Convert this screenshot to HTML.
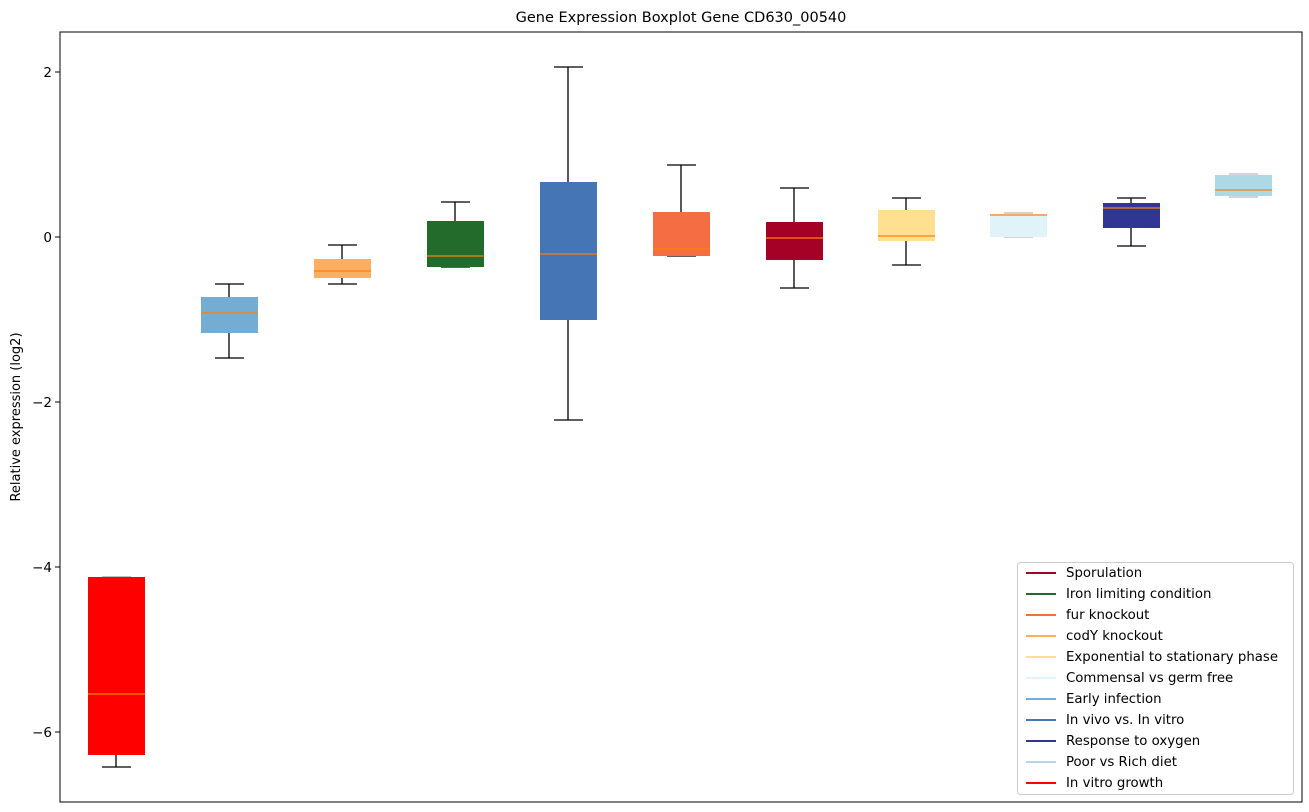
<!DOCTYPE html>
<html><head><meta charset="utf-8"><style>body{margin:0;background:#fff}svg{display:block;font-family:"DejaVu Sans","Liberation Sans",sans-serif}</style></head><body>
<svg width="1309" height="812" xmlns="http://www.w3.org/2000/svg">
<rect width="1309" height="812" fill="#fff"/>
<text x="681" y="22" font-size="14.5" text-anchor="middle">Gene Expression Boxplot Gene CD630_00540</text>
<text transform="translate(20,417) rotate(-90)" font-size="13" text-anchor="middle">Relative expression (log2)</text>
<g font-size="13.5" text-anchor="end">
<line x1="55" x2="60" y1="72" y2="72" stroke="#000"/><text x="52" y="77">2</text>
<line x1="55" x2="60" y1="237" y2="237" stroke="#000"/><text x="52" y="242">0</text>
<line x1="55" x2="60" y1="402" y2="402" stroke="#000"/><text x="52" y="407">−2</text>
<line x1="55" x2="60" y1="567" y2="567" stroke="#000"/><text x="52" y="572">−4</text>
<line x1="55" x2="60" y1="732" y2="732" stroke="#000"/><text x="52" y="737">−6</text>
</g>
<g stroke-width="1.3">
<g><line x1="116" x2="116" y1="755" y2="767" stroke="#000"/><line x1="102" x2="131" y1="767" y2="767" stroke="#000"/><line x1="102" x2="131" y1="577" y2="577" stroke="#999"/><rect x="88" y="577" width="57" height="178" fill="#ff0000"/><line x1="88" x2="145" y1="694" y2="694" stroke="#ff7f0e"/></g>
<g><line x1="229" x2="229" y1="284" y2="358" stroke="#000"/><line x1="215" x2="244" y1="284" y2="284" stroke="#000"/><line x1="215" x2="244" y1="358" y2="358" stroke="#000"/><rect x="201" y="297" width="57" height="36" fill="#74add1"/><line x1="201" x2="258" y1="313" y2="313" stroke="#ff7f0e"/></g>
<g><line x1="342" x2="342" y1="245" y2="284" stroke="#000"/><line x1="328" x2="357" y1="245" y2="245" stroke="#000"/><line x1="328" x2="357" y1="284" y2="284" stroke="#000"/><rect x="314" y="259" width="57" height="19" fill="#fdae61"/><line x1="314" x2="371" y1="271" y2="271" stroke="#ff7f0e"/></g>
<g><line x1="455" x2="455" y1="202" y2="267" stroke="#000"/><line x1="441" x2="470" y1="202" y2="202" stroke="#000"/><line x1="441" x2="470" y1="267" y2="267" stroke="#000"/><rect x="427" y="221" width="57" height="46" fill="#236b2b"/><line x1="427" x2="484" y1="256" y2="256" stroke="#ff7f0e"/></g>
<g><line x1="568" x2="568" y1="67" y2="420" stroke="#000"/><line x1="554" x2="583" y1="67" y2="67" stroke="#000"/><line x1="554" x2="583" y1="420" y2="420" stroke="#000"/><rect x="540" y="182" width="57" height="138" fill="#4575b4"/><line x1="540" x2="597" y1="254" y2="254" stroke="#ff7f0e"/></g>
<g><line x1="681" x2="681" y1="165" y2="256" stroke="#000"/><line x1="667" x2="696" y1="165" y2="165" stroke="#000"/><line x1="667" x2="696" y1="256" y2="256" stroke="#000"/><rect x="653" y="212" width="57" height="44" fill="#f46d43"/><line x1="653" x2="710" y1="249" y2="249" stroke="#ff7f0e"/></g>
<g><line x1="794" x2="794" y1="188" y2="288" stroke="#000"/><line x1="780" x2="809" y1="188" y2="188" stroke="#000"/><line x1="780" x2="809" y1="288" y2="288" stroke="#000"/><rect x="766" y="222" width="57" height="38" fill="#a50026"/><line x1="766" x2="823" y1="238" y2="238" stroke="#ff7f0e"/></g>
<g><line x1="906" x2="906" y1="198" y2="265" stroke="#000"/><line x1="892" x2="921" y1="198" y2="198" stroke="#000"/><line x1="892" x2="921" y1="265" y2="265" stroke="#000"/><rect x="878" y="210" width="57" height="31" fill="#fee090"/><line x1="878" x2="935" y1="236" y2="236" stroke="#ff7f0e"/></g>
<g><line x1="1004" x2="1033" y1="213" y2="213" stroke="#bbb"/><line x1="1004" x2="1033" y1="237" y2="237" stroke="#bbb"/><rect x="990" y="214" width="57" height="23" fill="#e0f3f8"/><line x1="990" x2="1047" y1="215" y2="215" stroke="#ff7f0e"/></g>
<g><line x1="1131" x2="1131" y1="198" y2="246" stroke="#000"/><line x1="1117" x2="1146" y1="198" y2="198" stroke="#000"/><line x1="1117" x2="1146" y1="246" y2="246" stroke="#000"/><rect x="1103" y="203" width="57" height="25" fill="#313695"/><line x1="1103" x2="1160" y1="208" y2="208" stroke="#ff7f0e"/></g>
<g><line x1="1229" x2="1258" y1="174" y2="174" stroke="#bbb"/><line x1="1229" x2="1258" y1="197" y2="197" stroke="#bbb"/><rect x="1215" y="175" width="57" height="21" fill="#add8e6"/><line x1="1215" x2="1272" y1="190" y2="190" stroke="#ff7f0e"/></g>
</g>
<rect x="60" y="32" width="1242" height="770" fill="none" stroke="#000" stroke-width="1"/>
<rect x="1017.5" y="562.5" width="276" height="232" rx="3" fill="#fff" fill-opacity="0.85" stroke="#ccc"/>
<g font-size="13.3" stroke-width="2">
<line x1="1026" x2="1056" y1="573" y2="573" stroke="#a50026"/><text x="1066" y="577">Sporulation</text>
<line x1="1026" x2="1056" y1="594" y2="594" stroke="#236b2b"/><text x="1066" y="598">Iron limiting condition</text>
<line x1="1026" x2="1056" y1="615" y2="615" stroke="#f46d43"/><text x="1066" y="619">fur knockout</text>
<line x1="1026" x2="1056" y1="636" y2="636" stroke="#fdae61"/><text x="1066" y="640">codY knockout</text>
<line x1="1026" x2="1056" y1="657" y2="657" stroke="#fee090"/><text x="1066" y="661">Exponential to stationary phase</text>
<line x1="1026" x2="1056" y1="678" y2="678" stroke="#e0f3f8"/><text x="1066" y="682">Commensal vs germ free</text>
<line x1="1026" x2="1056" y1="699" y2="699" stroke="#74add1"/><text x="1066" y="703">Early infection</text>
<line x1="1026" x2="1056" y1="720" y2="720" stroke="#4575b4"/><text x="1066" y="724">In vivo vs. In vitro</text>
<line x1="1026" x2="1056" y1="741" y2="741" stroke="#313695"/><text x="1066" y="745">Response to oxygen</text>
<line x1="1026" x2="1056" y1="762" y2="762" stroke="#add8e6"/><text x="1066" y="766">Poor vs Rich diet</text>
<line x1="1026" x2="1056" y1="783" y2="783" stroke="#ff0000"/><text x="1066" y="787">In vitro growth</text>
</g>
</svg>
</body></html>
